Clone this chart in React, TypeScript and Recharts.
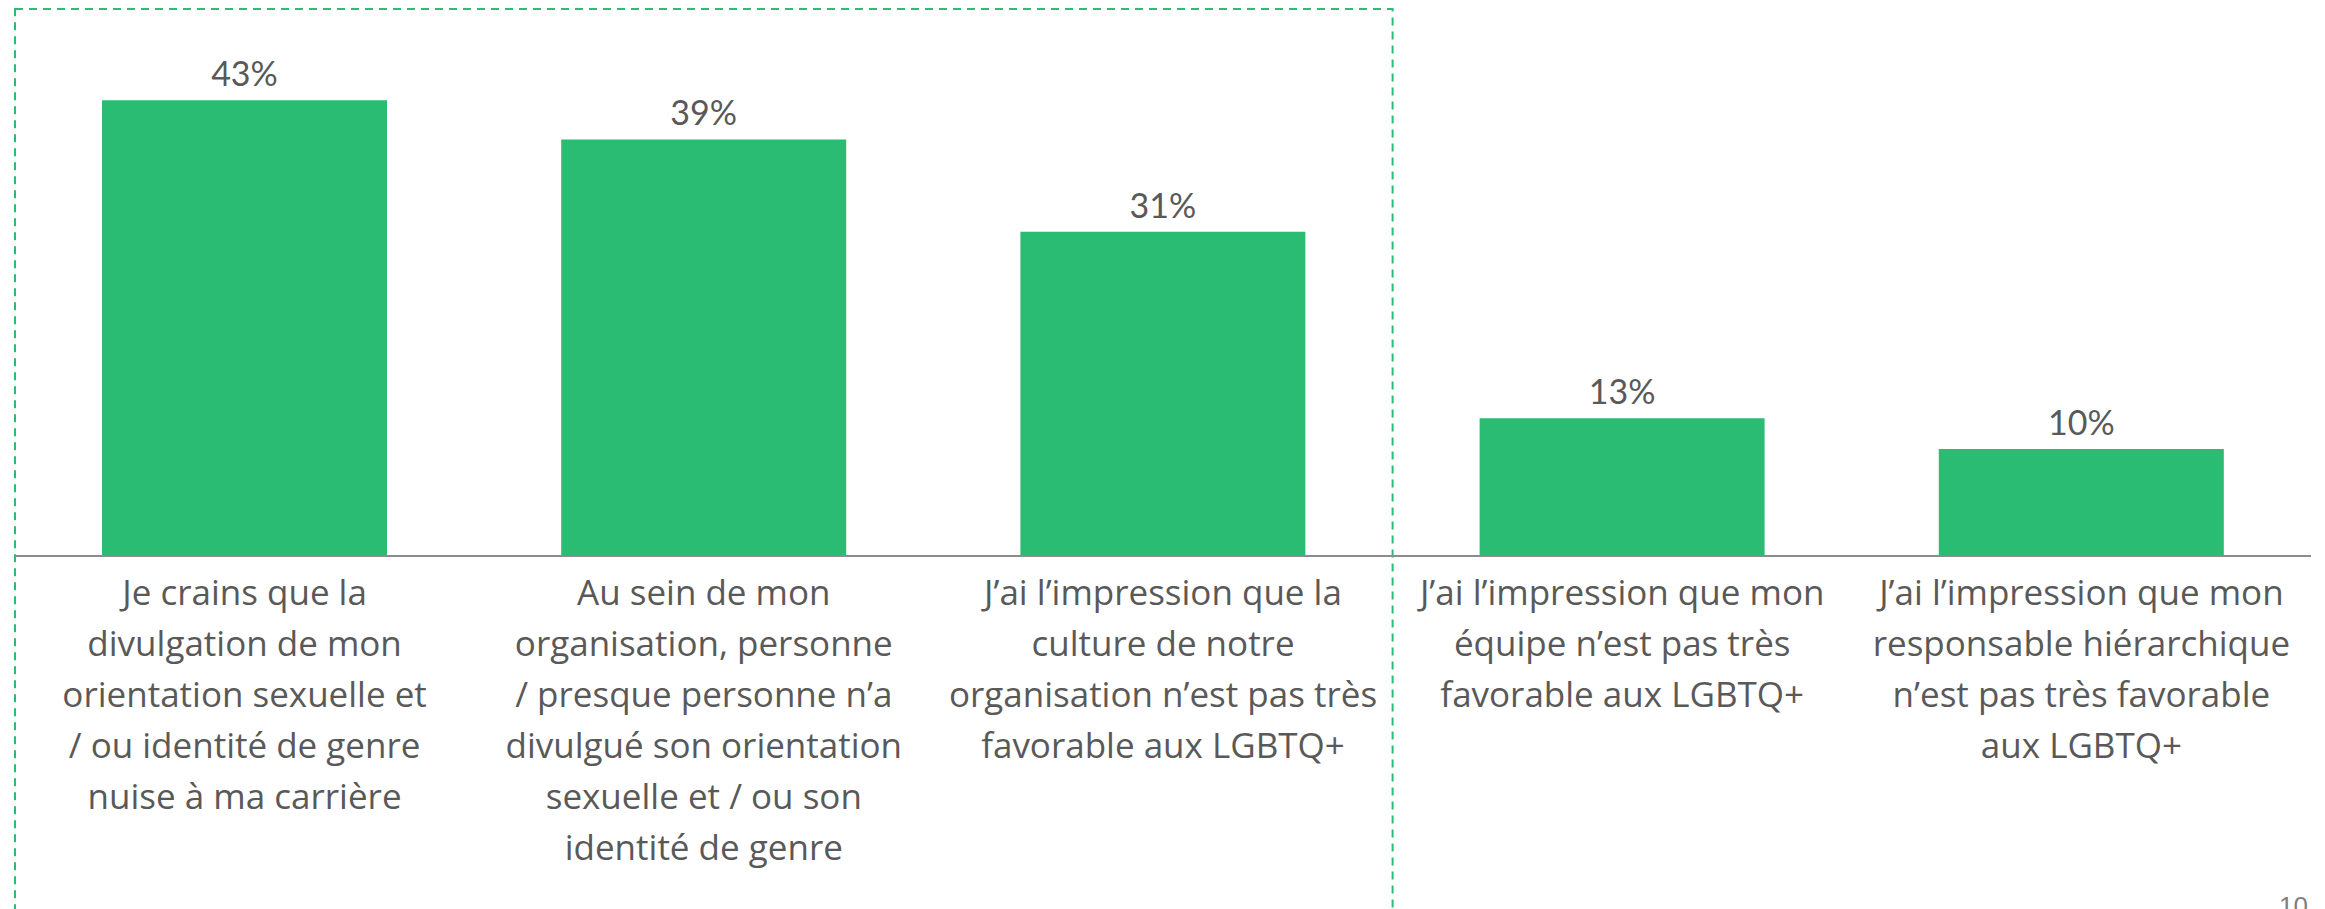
import React from "react";
import {
  BarChart,
  Bar,
  XAxis,
  YAxis,
  LabelList,
  ReferenceArea,
} from "recharts";

const categories = ["carriere", "personne", "culture", "equipe", "responsable"];

const categoryLines: string[][] = [
  [
    "Je crains que la",
    "divulgation de mon",
    "orientation sexuelle et",
    "/ ou identité de genre",
    "nuise à ma carrière",
  ],
  [
    "Au sein de mon",
    "organisation, personne",
    "/ presque personne n’a",
    "divulgué son orientation",
    "sexuelle et / ou son",
    "identité de genre",
  ],
  [
    "J’ai l’impression que la",
    "culture de notre",
    "organisation n’est pas très",
    "favorable aux LGBTQ+",
  ],
  [
    "J’ai l’impression que mon",
    "équipe n’est pas très",
    "favorable aux LGBTQ+",
  ],
  [
    "J’ai l’impression que mon",
    "responsable hiérarchique",
    "n’est pas très favorable",
    "aux LGBTQ+",
  ],
];

// bar heights; labels show the rounded figure
const values = [43, 39.3, 30.6, 13, 10.1];

const data = categories.map((c, i) => ({ cat: c, value: values[i] }));

const GREEN = "#2BBC74";
const TEXT = "#595959";

function CategoryTick(props: any) {
  const { x, y, payload } = props;
  const lines = categoryLines[payload.index] ?? [];
  return (
    <text
      x={x}
      y={y}
      textAnchor="middle"
      fill={TEXT}
      fontSize={35}
      fontFamily="'Open Sans', sans-serif"
    >
      {lines.map((line, i) => (
        <tspan key={i} x={x} dy={i === 0 ? 41 : 51}>
          {line}
        </tspan>
      ))}
    </text>
  );
}

export default function App() {
  return (
    <div
      style={{
        position: "absolute",
        left: 0,
        top: 0,
        width: 2325,
        height: 909,
        background: "#fff",
        overflow: "hidden",
      }}
    >
      <BarChart
        width={2325}
        height={909}
        data={data}
        margin={{ top: 26, right: 14, left: 15, bottom: 0 }}
      >
        <ReferenceArea
          x1={categories[0]}
          x2={categories[2]}
          y1={-40}
          y2={51.6}
          ifOverflow="visible"
          fill="none"
          stroke={GREEN}
          strokeWidth={2}
          strokeDasharray="8 6"
        />
        <XAxis
          dataKey="cat"
          height={353}
          interval={0}
          tickLine={false}
          axisLine={{ stroke: "#8c8c8c", strokeWidth: 2 }}
          tick={<CategoryTick />}
        />
        <YAxis hide domain={[0, 50]} />
        <Bar
          dataKey="value"
          fill={GREEN}
          barSize={285}
          isAnimationActive={false}
        >
          <LabelList
            dataKey="value"
            position="top"
            offset={14}
            formatter={(v: any) => `${Math.round(v)}%`}
            fill={TEXT}
            fontSize={34}
            fontFamily="Lato, sans-serif"
          />
        </Bar>
      </BarChart>
      <div
        style={{
          position: "absolute",
          left: 2279,
          top: 893,
          fontFamily: "Arial, 'Liberation Sans', sans-serif",
          fontSize: 26,
          color: "#7f7f7f",
          lineHeight: 1,
        }}
      >
        10
      </div>
    </div>
  );
}
